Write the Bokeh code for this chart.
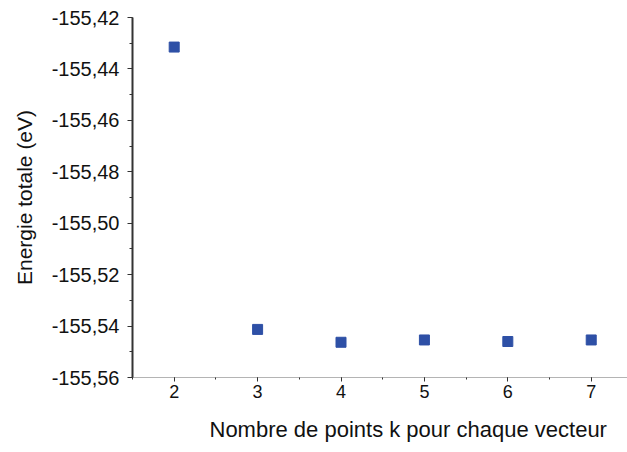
from bokeh.plotting import figure
from bokeh.models import (Range1d, SingleIntervalTicker, CustomJSTickFormatter, Title)
from bokeh.embed import file_html
from bokeh.resources import INLINE

# Data
k_points = [2, 3, 4, 5, 6, 7]
energy_ev = [-155.4315, -155.5413, -155.5463, -155.5454, -155.5460, -155.5454]

x_title = "Nombre de points k pour chaque vecteur"
y_title = "Energie totale (eV)"

FONT = "Liberation Sans"

p = figure(frame_width=495, frame_height=360,
           min_border_left=132, min_border_right=0,
           min_border_top=17, min_border_bottom=75,
           x_range=Range1d(1.5, 7.435), y_range=Range1d(-155.56, -155.42),
           output_backend="svg", toolbar_location=None)

p.outline_line_color = None
p.xgrid.visible = False
p.ygrid.visible = False
p.background_fill_color = "white"
p.border_fill_color = "white"

p.scatter(k_points, energy_ev, marker="square", size=10,
          fill_color="#2E50A6", line_color="#2E50A6")

# Y axis
ya = p.yaxis[0]
ya.ticker = SingleIntervalTicker(interval=0.02, num_minor_ticks=2)
ya.formatter = CustomJSTickFormatter(code="return tick.toFixed(2).replace('.', ',');")
ya.axis_line_color = "#333333"
ya.axis_line_width = 2
ya.major_tick_line_color = "#333333"
ya.minor_tick_line_color = "#333333"
ya.major_tick_out = 5
ya.major_tick_in = 0
ya.minor_tick_out = 3
ya.minor_tick_in = 0
ya.major_label_standoff = 8
ya.major_label_text_font = FONT
ya.major_label_text_font_size = "20px"
ya.major_label_text_color = "#111111"
ya.axis_label = y_title
ya.axis_label_text_font = FONT
ya.axis_label_text_font_size = "21px"
ya.axis_label_text_font_style = "normal"
ya.axis_label_text_color = "#111111"
ya.axis_label_standoff = 13

# X axis
xa = p.xaxis[0]
xa.ticker = SingleIntervalTicker(interval=1, num_minor_ticks=2)
xa.axis_line_color = "#b4b4b4"
xa.axis_line_width = 1
xa.major_tick_line_color = "#333333"
xa.minor_tick_line_color = "#333333"
xa.major_tick_out = 4
xa.major_tick_in = 0
xa.minor_tick_out = 2
xa.minor_tick_in = 0
xa.major_label_standoff = 3
xa.major_label_text_font = FONT
xa.major_label_text_font_size = "18px"
xa.major_label_text_color = "#111111"

xt = Title(text=x_title, align="left", offset=77, standoff=29,
           text_font=FONT, text_font_size="22px", text_font_style="normal",
           text_color="#111111")
p.add_layout(xt, "below")

open("out.html", "w").write(file_html(p, INLINE))
